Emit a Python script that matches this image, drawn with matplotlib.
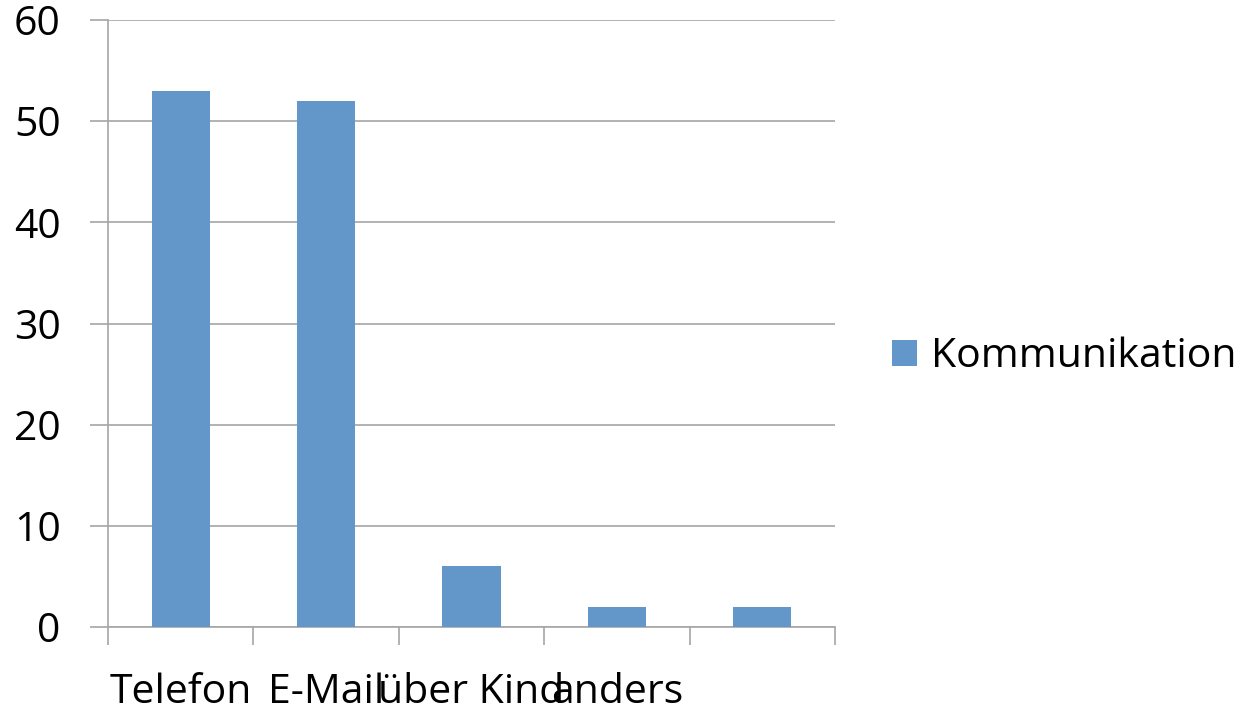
import numpy as np
import matplotlib.pyplot as plt
from matplotlib.ticker import FixedLocator

# donnees
kategorien = ['Telefon', 'E-Mail', 'über Kind', 'anders', '']
werte = [53, 52, 6, 2, 2]
serie = 'Kommunikation'

plt.rcParams['font.family'] = ['Open Sans', 'DejaVu Sans']
farbe = '#6397CA'
grau = '#A6A6A6'

fig = plt.figure(figsize=(12.43, 7.09), dpi=100)
ax = fig.add_axes([108/1243, 1 - 627/709, (835-108)/1243, (627-20)/709])

x = np.arange(1, len(werte) + 1)
ax.bar(x, werte, width=0.4, color=farbe, label=serie, zorder=3)

ax.set_xlim(0.5, len(werte) + 0.5)
ax.set_ylim(0, 60)
ax.set_yticks(np.arange(0, 61, 10))
ax.yaxis.grid(True, color=grau, linewidth=1.2, zorder=0)

ax.set_xticks(x)
ax.set_xticklabels(kategorien)
ax.xaxis.set_minor_locator(FixedLocator(np.arange(0.5, len(werte) + 1, 1)))
ax.tick_params(axis='x', which='major', length=0, pad=33, labelsize=29.5)
ax.tick_params(axis='x', which='minor', length=13, width=1.2, color=grau)
ax.tick_params(axis='y', length=13, width=1.2, color=grau, pad=21, labelsize=29.5)

for s in ['top', 'right']:
    ax.spines[s].set_visible(False)
for s in ['left', 'bottom']:
    ax.spines[s].set_color(grau)
    ax.spines[s].set_linewidth(1.2)

leg = ax.legend(loc='center left', bbox_to_anchor=(1.079, 0.445), frameon=False,
                fontsize=29.5, handlelength=0.6, handleheight=0.6, handletextpad=0.35,
                borderaxespad=0, borderpad=0)

plt.savefig('out.png', dpi=100)
